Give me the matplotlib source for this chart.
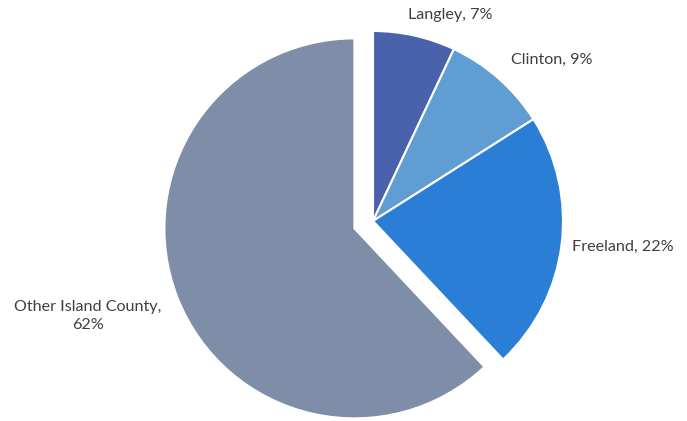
import matplotlib
matplotlib.use("Agg")
import matplotlib.pyplot as plt

regions = ["Langley", "Clinton", "Freeland", "Other Island County"]
shares = [7, 9, 22, 62]
colors = ["#4A62AC", "#5F9DD2", "#2A7ED6", "#7F8EA8"]
explode_px = [0, 0, 0, 20]

plt.rcParams["font.family"] = ["Lato", "DejaVu Sans"]

W, H = 687, 421
fig = plt.figure(figsize=(W / 100, H / 100), dpi=100)
ax = fig.add_axes([0, 0, 1, 1])

ax.pie(
    shares,
    colors=colors,
    startangle=90,
    counterclock=False,
    center=(373, H - 221),
    radius=190,
    explode=explode_px,
    wedgeprops=dict(edgecolor="white", linewidth=1.5),
    frame=True,
)
ax.set_xlim(0, W)
ax.set_ylim(0, H)
ax.set_aspect("equal")
ax.axis("off")

label_pos = [(450, H - 15), (552, H - 60), (623, H - 247), (88, H - 316)]
label_text = [
    f"{regions[0]}, {shares[0]}%",
    f"{regions[1]}, {shares[1]}%",
    f"{regions[2]}, {shares[2]}%",
    f"{regions[3]},\n{shares[3]}%",
]
for (x, y), t in zip(label_pos, label_text):
    ax.text(x, y, t, ha="center", va="center", fontsize=11.6,
            color="#3F3F3F", linespacing=1.38)

fig.savefig("out.png", dpi=100, facecolor="white")
